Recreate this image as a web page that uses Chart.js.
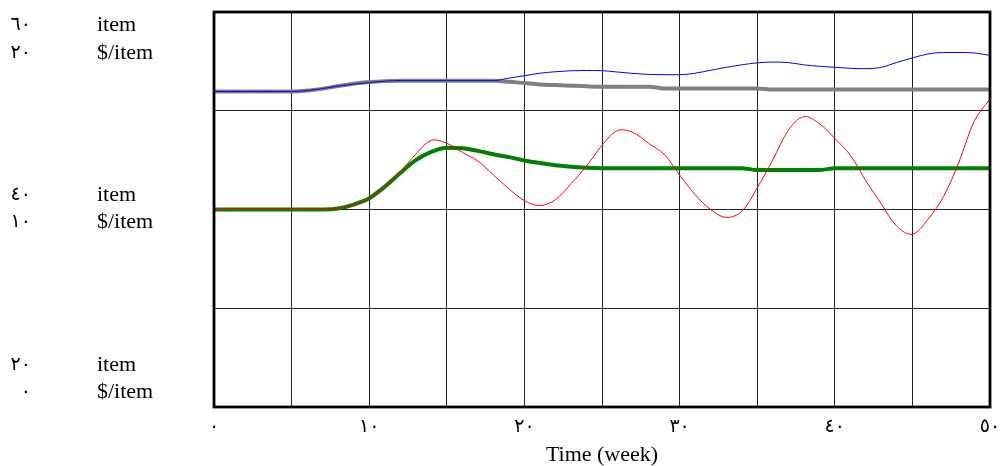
<!DOCTYPE html>
<html>
<head>
<meta charset="utf-8">
<script src="https://cdn.jsdelivr.net/npm/chart.js@4/dist/chart.umd.min.js"></script>
<style>
    html, body { margin: 0; padding: 0; background: #fff; }
    #wrap { width: 1001px; height: 466px; }
</style>
</head>
<body>
<div id="wrap"><canvas id="sim-chart" width="1001" height="466"></canvas></div>
<script>
// Simulation time axis (weeks)
const weeks = [0, 1, 2, 3, 4, 5, 6, 7, 8, 9, 10, 11, 12, 13, 14, 15, 16, 17, 18, 19, 20,
    21, 22, 23, 24, 25, 26, 27, 28, 29, 30, 31, 32, 33, 34, 35, 36, 37, 38, 39, 40,
    41, 42, 43, 44, 45, 46, 47, 48, 49, 50];

// item series
const blueItems = [51.95, 51.95, 51.95, 51.95, 51.95, 51.95, 52.05, 52.25, 52.5, 52.7, 52.85,
    53.0, 53.05, 53.05, 53.05, 53.05, 53.05, 53.05, 53.05, 53.3, 53.55,
    53.8, 53.95, 54.05, 54.08, 54.06, 53.92, 53.78, 53.68, 53.65, 53.65,
    53.8, 54.1, 54.4, 54.65, 54.85, 54.93, 54.88, 54.65, 54.5, 54.4,
    54.3, 54.26, 54.4, 54.9, 55.35, 55.75, 55.9, 55.9, 55.85, 55.6];
const redItems = [40, 40, 40, 40, 40, 40, 40, 40, 40.1, 40.5, 41.15,
    42.3, 43.8, 45.6, 47.0, 46.7, 45.8, 44.9, 43.5, 42.1, 40.9,
    40.4, 41.0, 42.6, 44.4, 46.5, 48.0, 47.8, 46.7, 45.6, 43.5,
    41.5, 40.0, 39.2, 39.8, 42.2, 45.0, 48.0, 49.4, 48.7, 47.2,
    45.5, 42.9, 40.55, 38.3, 37.5, 39.0, 41.3, 44.8, 49.0, 51.2];

// $/item series
const grayPrice = [15.97, 15.97, 15.97, 15.97, 15.97, 15.97, 16.02, 16.12, 16.25, 16.37, 16.45,
    16.5, 16.52, 16.52, 16.52, 16.52, 16.52, 16.52, 16.52, 16.47, 16.4,
    16.33, 16.3, 16.27, 16.24, 16.22, 16.22, 16.22, 16.22, 16.13, 16.13,
    16.13, 16.13, 16.13, 16.13, 16.13, 16.07, 16.07, 16.07, 16.07, 16.07,
    16.07, 16.07, 16.07, 16.07, 16.07, 16.07, 16.07, 16.07, 16.07, 16.07];
const greenPrice = [10, 10, 10, 10, 10, 10, 10, 10, 10.05, 10.25, 10.57,
    11.15, 11.85, 12.5, 12.92, 13.13, 13.1, 12.97, 12.8, 12.65, 12.48,
    12.35, 12.24, 12.16, 12.11, 12.09, 12.09, 12.09, 12.09, 12.09, 12.09,
    12.09, 12.09, 12.09, 12.09, 12.0, 12.0, 12.0, 12.0, 12.0, 12.09,
    12.09, 12.09, 12.09, 12.09, 12.09, 12.09, 12.09, 12.09, 12.09, 12.09];

// Axis labels
const weekTicks = [0, 10, 20, 30, 40, 50];
const itemTicks = [60, 40, 20];
const priceTicks = [20, 10, 0];
const itemUnit = 'item';
const priceUnit = '$/item';
const xTitle = 'Time (week)';

const SERIF = '"Liberation Serif", "Times New Roman", serif';
const DIGITS = '"DejaVu Sans", sans-serif';

// 0-9 -> Arabic-Indic digits
function toArabicDigits(n) {
    return String(n).replace(/[0-9]/g, d => String.fromCharCode(0x0660 + Number(d)));
}

function pts(values) {
    return weeks.map((w, i) => ({ x: w, y: values[i] }));
}

// Draws the frame, the stacked unit labels on the left and the time axis text
const frameAndLabels = {
    id: 'frameAndLabels',
    afterDraw(chart) {
        const { ctx, chartArea: a } = chart;
        const x = chart.scales.x;
        const yItem = chart.scales.yItem;
        ctx.save();

        ctx.strokeStyle = '#000';
        ctx.lineWidth = 2.8;
        ctx.strokeRect(a.left, a.top, a.right - a.left, a.bottom - a.top);

        // row offsets for the two label lines at top, middle and bottom
        const rows = [[13, 41], [-14, 13], [-42, -15]];
        itemTicks.forEach((v, i) => {
            const py = yItem.getPixelForValue(v);
            const [r1, r2] = rows[i];
            ctx.fillStyle = '#000';
            ctx.textBaseline = 'middle';

            ctx.textAlign = 'right';
            ctx.font = '19px ' + DIGITS;
            ctx.fillText(toArabicDigits(v), 31, py + r1);
            ctx.fillText(toArabicDigits(priceTicks[i]), 31, py + r2);

            ctx.textAlign = 'left';
            ctx.font = '22px ' + SERIF;
            ctx.fillText(itemUnit, 97, py + r1);
            ctx.fillText(priceUnit, 97, py + r2);
        });

        ctx.textAlign = 'center';
        ctx.textBaseline = 'middle';
        ctx.font = '19px ' + DIGITS;
        weekTicks.forEach(w => {
            ctx.fillText(toArabicDigits(w), x.getPixelForValue(w), a.bottom + 20);
        });

        ctx.font = '22px ' + SERIF;
        ctx.fillText(xTitle, (a.left + a.right) / 2, a.bottom + 48);
        ctx.restore();
    }
};

new Chart(document.getElementById('sim-chart'), {
    type: 'line',
    data: {
        datasets: [
            {
                label: 'red', data: pts(redItems), yAxisID: 'yItem',
                borderColor: '#ff0000', borderWidth: 1,
                pointRadius: 0, tension: 0.35
            },
            {
                label: 'blue', data: pts(blueItems), yAxisID: 'yItem',
                borderColor: '#0000ff', borderWidth: 1,
                pointRadius: 0, cubicInterpolationMode: 'monotone'
            },
            {
                label: 'green', data: pts(greenPrice), yAxisID: 'yPrice',
                borderColor: '#008000', borderWidth: 4,
                pointRadius: 0, cubicInterpolationMode: 'monotone'
            },
            {
                label: 'gray', data: pts(grayPrice), yAxisID: 'yPrice',
                borderColor: '#808080', borderWidth: 4,
                pointRadius: 0, cubicInterpolationMode: 'monotone'
            }
        ]
    },
    options: {
        responsive: false,
        animation: false,
        layout: { padding: { left: 214, right: 11, top: 12, bottom: 59 } },
        plugins: {
            legend: { display: false },
            tooltip: { enabled: false }
        },
        scales: {
            x: {
                type: 'linear', min: 0, max: 50,
                ticks: { display: false, stepSize: 5 },
                grid: { color: '#222', lineWidth: 1, drawTicks: false },
                border: { display: false }
            },
            yItem: {
                type: 'linear', position: 'left', min: 20, max: 60,
                ticks: { display: false, stepSize: 10 },
                grid: { color: '#222', lineWidth: 1, drawTicks: false },
                border: { display: false }
            },
            yPrice: {
                type: 'linear', position: 'right', min: 0, max: 20,
                display: false
            }
        }
    },
    plugins: [frameAndLabels]
});
</script>
</body>
</html>
